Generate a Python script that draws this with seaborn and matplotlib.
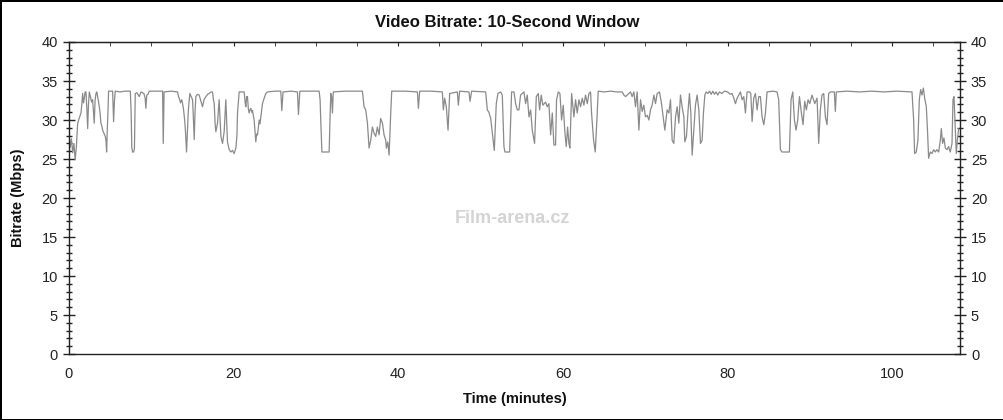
import numpy as np
import pandas as pd
import matplotlib
matplotlib.use("Agg")
import matplotlib.pyplot as plt
from matplotlib.ticker import MultipleLocator
import seaborn as sns

sns.set_style("white")
plt.rcParams['font.family'] = ['Liberation Sans', 'DejaVu Sans']

# (minutes, Mbps), split by stretch of the film
part1 = [(0.00, 28.3), (0.15, 26.5), (0.30, 27.6), (0.45, 25.8), (0.60, 27.0), (0.75, 24.9),
         (0.90, 26.6), (1.05, 29.5), (1.17, 30.0), (1.30, 30.4), (1.46, 30.9), (1.56, 32.0),
         (1.66, 33.4), (1.76, 32.2), (1.86, 32.8), (1.96, 33.6), (2.06, 33.6), (2.17, 31.5),
         (2.27, 28.9), (2.37, 32.0), (2.47, 33.6), (2.60, 33.0), (2.75, 32.3), (2.87, 32.6),
         (2.97, 31.0), (3.07, 29.6), (3.17, 32.5), (3.28, 33.4), (3.38, 33.6), (3.48, 33.0),
         (3.58, 32.4), (3.68, 31.7), (3.78, 30.9), (3.88, 29.6), (4.00, 29.2), (4.09, 28.7),
         (4.25, 28.3), (4.41, 27.9), (4.50, 27.3), (4.57, 25.9), (4.65, 28.7), (4.75, 31.5),
         (4.81, 33.7), (5.30, 33.7), (5.42, 29.8), (5.52, 32.4), (5.62, 33.7), (6.20, 33.6),
         (6.80, 33.7), (7.45, 33.7), (7.55, 31.0), (7.63, 26.5), (7.73, 25.9), (7.85, 25.9),
         (7.95, 26.3), (8.05, 33.4), (8.25, 33.5), (8.53, 33.0), (8.75, 33.6), (9.10, 33.4),
         (9.25, 32.8), (9.34, 31.5), (9.45, 33.2), (9.60, 33.3), (9.75, 33.7), (10.5, 33.7),
         (11.37, 33.7), (11.45, 27.0), (11.55, 33.6), (12.4, 33.7), (13.19, 33.6), (13.30, 33.0),
         (13.39, 32.8), (13.55, 32.2), (13.70, 32.6), (13.80, 32.1), (13.92, 31.3), (14.05, 30.0),
         (14.15, 28.5), (14.28, 25.9), (14.40, 29.0), (14.50, 31.3), (14.68, 33.4), (14.85, 33.0),
         (15.01, 32.6), (15.10, 30.5), (15.21, 27.5), (15.31, 31.0), (15.41, 33.0), (15.60, 33.3),
         (15.81, 33.2), (16.00, 32.5), (16.22, 31.7), (16.40, 32.6), (16.63, 33.0), (16.85, 33.3),
         (17.03, 33.4), (17.25, 33.6), (17.43, 33.6), (17.55, 32.6), (17.64, 32.1), (17.75, 29.5),
         (17.84, 28.5)]

part2 = [(18.04, 29.6), (18.24, 32.6), (18.45, 27.9), (18.65, 27.0), (18.85, 28.5), (19.05, 32.6),
         (19.25, 27.2), (19.46, 26.2), (19.66, 25.9), (19.86, 26.1), (20.06, 25.7), (20.27, 26.4),
         (20.40, 28.0), (20.47, 30.9), (20.67, 33.6), (21.28, 33.6), (21.40, 32.2), (21.48, 31.7),
         (21.58, 33.0), (21.68, 33.0), (21.78, 31.5), (21.88, 30.9), (21.98, 31.3), (22.09, 31.5),
         (22.20, 31.0), (22.29, 31.2), (22.49, 30.0), (22.60, 28.5), (22.69, 27.2), (22.80, 28.2),
         (22.90, 28.1), (23.10, 30.0), (23.20, 29.5), (23.30, 30.4), (23.50, 32.1), (23.71, 32.8),
         (23.91, 33.4), (24.11, 33.6), (25.0, 33.7), (25.73, 33.7), (25.85, 31.2), (26.00, 33.6),
         (27.0, 33.7), (27.75, 33.6), (27.87, 30.7), (28.04, 33.7), (29.2, 33.7), (30.38, 33.7),
         (30.50, 32.6), (30.58, 30.0), (30.72, 25.9), (31.2, 25.9), (31.6, 25.9), (31.7, 30.0),
         (31.8, 33.4), (31.9, 33.0), (32.0, 30.9), (32.1, 33.6), (33.5, 33.7), (35.64, 33.7),
         (35.84, 31.7), (36.04, 31.3), (36.25, 29.6)]

part3 = [(36.45, 26.4), (36.65, 27.4), (36.85, 29.1), (37.06, 28.3), (37.26, 27.9), (37.46, 29.1),
         (37.66, 28.1), (37.86, 30.2), (38.07, 29.6), (38.27, 28.1), (38.47, 27.4), (38.55, 26.4),
         (38.72, 27.2), (38.88, 25.5), (39.08, 30.9), (39.20, 33.7), (40.8, 33.7), (42.32, 33.6),
         (42.44, 31.5), (42.60, 33.7), (44.0, 33.7), (45.35, 33.6), (45.47, 31.3), (45.63, 32.8),
         (45.83, 31.7), (46.04, 28.7), (46.24, 33.4), (47.17, 33.6), (47.29, 31.9), (47.45, 33.7),
         (48.58, 33.6), (48.71, 32.4), (48.91, 33.7), (50.61, 33.6), (50.81, 31.3), (51.00, 31.0),
         (51.22, 30.2), (51.42, 28.3), (51.66, 26.1), (51.90, 32.1), (52.10, 33.4), (52.43, 33.6),
         (52.63, 33.2), (52.83, 26.6), (52.95, 25.9), (53.52, 25.9), (53.76, 33.6), (54.05, 33.6),
         (54.25, 32.1), (54.45, 31.3)]

part4 = [(54.65, 31.3), (54.85, 33.2), (55.26, 33.6), (55.46, 32.1), (55.66, 33.2), (55.87, 30.4),
         (56.07, 31.3), (56.27, 28.7), (56.55, 27.0), (56.76, 33.0), (57.00, 33.4), (57.16, 31.3),
         (57.36, 33.2), (57.56, 31.9), (57.89, 32.3), (58.09, 31.7), (58.29, 32.1), (58.50, 28.1),
         (58.70, 30.9), (58.90, 26.8), (59.10, 26.8), (59.22, 32.6), (59.43, 33.6), (59.63, 33.4),
         (59.83, 30.0), (60.03, 31.9), (60.24, 28.3), (60.40, 26.6), (60.56, 29.1), (60.72, 27.0),
         (60.84, 26.4), (61.05, 33.4), (61.33, 30.4), (61.53, 32.6), (61.73, 30.9), (61.94, 32.6),
         (62.14, 31.7), (62.34, 32.8), (62.54, 31.9), (62.74, 33.2), (62.95, 32.1), (63.15, 33.4),
         (63.35, 33.6), (63.47, 30.9), (63.72, 27.4), (63.92, 25.9), (64.12, 30.0), (64.28, 33.7),
         (65.0, 33.6), (65.8, 33.7), (66.5, 33.6), (67.20, 33.6), (67.40, 33.2), (67.60, 33.0),
         (67.80, 33.2), (68.00, 33.4), (68.20, 33.6), (68.40, 33.0), (68.61, 33.6), (68.81, 31.7),
         (69.01, 33.6), (69.22, 28.7), (69.42, 32.6), (69.62, 31.1), (69.82, 31.9), (70.02, 30.4),
         (70.23, 30.6), (70.43, 30.0), (70.63, 31.3), (70.83, 31.9), (71.04, 33.2), (71.24, 32.1),
         (71.44, 33.4), (71.72, 33.6), (71.97, 32.1), (72.17, 30.4), (72.37, 28.7), (72.65, 31.3)]

part5 = [(72.86, 30.9), (73.06, 32.6), (73.26, 27.4), (73.46, 27.0), (73.67, 30.4), (73.87, 31.7),
         (74.07, 29.6), (74.27, 33.2), (74.47, 31.7), (74.68, 30.4), (74.80, 27.2), (75.00, 27.9),
         (75.20, 31.3), (75.36, 33.4), (75.53, 30.9), (75.69, 25.5), (75.89, 28.7), (76.09, 31.9),
         (76.29, 33.2), (76.50, 31.3), (76.70, 27.0), (76.90, 27.4), (77.06, 30.9), (77.23, 33.2),
         (77.39, 33.6), (77.6, 33.4), (77.8, 33.7), (78.0, 33.3), (78.2, 33.7), (78.4, 33.3),
         (78.6, 33.6), (78.8, 33.2), (79.0, 33.6), (79.3, 33.4), (79.6, 33.7), (80.0, 33.6),
         (80.3, 33.3), (80.54, 33.4), (80.75, 32.8), (80.95, 32.1), (81.15, 32.8), (81.35, 33.2),
         (81.55, 33.6), (81.76, 32.6), (81.96, 33.0), (82.16, 30.9), (82.36, 33.6), (82.65, 33.6),
         (82.81, 33.4), (82.97, 29.8), (83.17, 32.8), (83.37, 33.4), (83.58, 31.3), (83.78, 33.0),
         (83.98, 33.0), (84.18, 30.4), (84.39, 29.4), (84.59, 30.9), (84.79, 33.6), (85.5, 33.7),
         (86.00, 33.6), (86.20, 32.6), (86.41, 26.2), (86.6, 25.9), (87.1, 25.9), (87.50, 25.9),
         (87.70, 32.6), (87.91, 33.6), (88.11, 30.0), (88.31, 28.7), (88.51, 30.0), (88.72, 33.0),
         (88.96, 30.9), (89.16, 29.4), (89.36, 32.4), (89.56, 31.3), (89.77, 32.6), (89.97, 32.1),
         (90.25, 33.2), (90.58, 32.1), (90.86, 32.8)]

part6 = [(91.06, 27.0), (91.26, 31.3), (91.46, 33.2), (91.67, 33.4), (91.87, 30.4), (92.07, 29.4),
         (92.27, 33.4), (92.48, 33.6), (92.96, 33.6), (93.08, 31.1), (93.20, 33.6), (94.5, 33.7),
         (96.0, 33.6), (97.5, 33.7), (99.0, 33.6), (100.5, 33.7), (102.39, 33.6), (102.59, 30.0),
         (102.71, 25.7), (102.91, 25.9), (103.11, 27.4), (103.28, 32.6), (103.44, 33.9), (103.60, 33.2),
         (103.77, 34.1), (103.93, 32.8), (104.13, 31.7), (104.29, 28.3), (104.41, 25.1), (104.61, 25.9),
         (104.82, 25.7), (105.02, 26.2), (105.22, 25.9), (105.42, 26.2), (105.63, 25.9), (105.83, 27.4),
         (105.95, 28.9), (106.11, 27.0), (106.27, 27.7), (106.44, 26.4), (106.64, 26.2), (106.84, 26.6),
         (107.04, 25.9), (107.25, 27.0), (107.37, 32.6), (107.49, 33.0), (107.65, 28.7), (107.77, 25.7),
         (107.90, 27.4), (108.06, 28.9)]

title = "Video Bitrate: 10-Second Window"
x_label = "Time (minutes)"
y_label = "Bitrate (Mbps)"
watermark = "Film-arena.cz"

df = pd.DataFrame(part1 + part2 + part3 + part4 + part5 + part6, columns=["Time", "Bitrate"])

fig = plt.figure(figsize=(10.04, 4.2), dpi=100, linewidth=2, edgecolor="black")
ax = fig.add_axes([0.0687, 0.157, 0.8873, 0.743])

# watermark, faint behind the line
fig.text(0.51, 0.48, watermark, ha="center", va="center", fontsize=13,
         fontweight="bold", color="#d4d4d4", zorder=0)

sns.lineplot(data=df, x="Time", y="Bitrate", ax=ax, color="#8a8a8a",
             linewidth=0.9, estimator=None, sort=False)

ax.set_xlim(0, 108.2)
ax.set_ylim(0, 40)
ax.set_facecolor("none")

ax.xaxis.set_major_locator(MultipleLocator(20))
ax.xaxis.set_minor_locator(MultipleLocator(5))
ax.yaxis.set_major_locator(MultipleLocator(5))
ax.yaxis.set_minor_locator(MultipleLocator(1))

for s in ax.spines.values():
    s.set_color("#222222")
    s.set_linewidth(1.0)

ax.tick_params(axis="x", which="major", direction="inout", length=10, width=1,
               labelsize=10.5, colors="#222222", pad=4)
ax.tick_params(axis="x", which="minor", direction="out", length=3.5, width=1,
               colors="#222222")
ax.tick_params(axis="y", which="major", direction="inout", length=8, width=1,
               left=True, right=True, labelleft=True, labelright=True,
               labelsize=10.5, colors="#222222", pad=4)
ax.tick_params(axis="y", which="minor", direction="inout", length=4, width=1,
               left=True, right=True, colors="#222222")

top = ax.secondary_xaxis("top")
top.xaxis.set_major_locator(MultipleLocator(20))
top.xaxis.set_minor_locator(MultipleLocator(5))
top.tick_params(which="both", direction="in", length=3, labeltop=False, colors="#222222")
top.spines["top"].set_color("#222222")

ax.set_xlabel(x_label, fontsize=10.5, fontweight="bold", color="#111111", labelpad=8)
ax.set_ylabel(y_label, fontsize=10.5, fontweight="bold", color="#111111", labelpad=12)
fig.suptitle(title, x=0.505, y=0.965, fontsize=12, fontweight="bold", color="#111111")

fig.savefig("out.png", dpi=100)
plt.close()
